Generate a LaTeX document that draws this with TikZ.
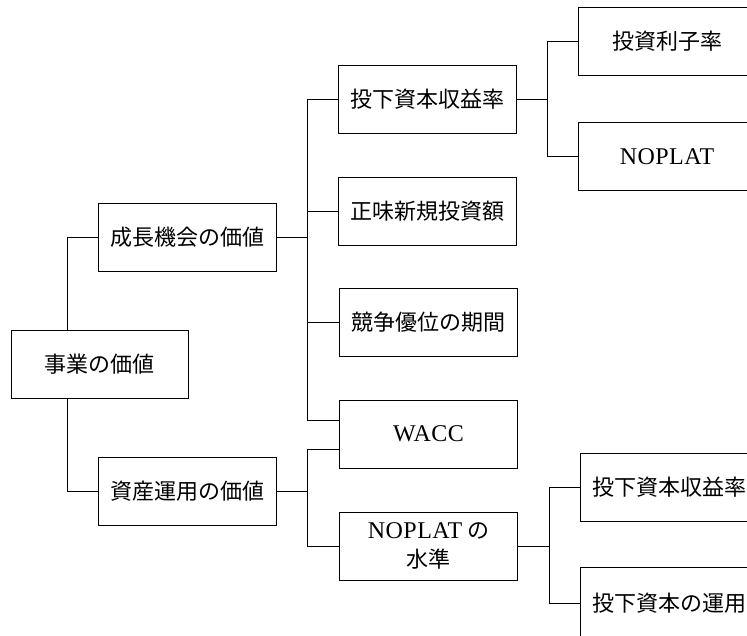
\documentclass[tikz,border=0pt]{standalone}
\usepackage{fontspec}
\setmainfont{Liberation Serif}
\newfontfamily\cjk{Noto Sans CJK JP}
\newfontfamily\lat[LetterSpace=2]{Liberation Serif}
\usetikzlibrary{calc}
\tikzset{
  box/.style={draw, line width=0.9pt, minimum width=178pt, minimum height=68pt, inner sep=0pt, align=center,
    font=\cjk\fontsize{22}{29}\selectfont},
  conn/.style={line width=0.9pt},
}
\begin{document}
\begin{tikzpicture}[x=1pt,y=-1pt]
\useasboundingbox (0,0) rectangle (747,636);
\clip (0,0) rectangle (747,636);
\fill[white] (0,0) rectangle (747,636);
% nodes
\node[box, minimum width=177pt] (root) at (99.5,364) {事業の価値};
\node[box] (growth) at (187,237) {成長機会の価値};
\node[box] (asset) at (187.5,491) {資産運用の価値};
\node[box] (roic1) at (427,99) {投下資本収益率};
\node[box] (netinv) at (427.5,211) {正味新規投資額};
\node[box] (comp) at (428,322.5) {競争優位の期間};
\node[box] (wacc) at (428.5,434) {{\lat\fontsize{24}{29}\selectfont WACC}};
\node[box] (noplat) at (428.5,546) {{\lat\fontsize{24}{29}\selectfont NOPLAT} の\\水準};
\node[box] (ir) at (667,41) {投資利子率};
\node[box] (np) at (667,156.5) {{\lat\fontsize{24}{29}\selectfont NOPLAT}};
\node[box] (roic2) at (669.5,487.5) {投下資本収益率};
\node[box, minimum height=72pt] (ops) at (669.5,603) {投下資本の運用};
% bus coordinates
\coordinate (b1) at (67,0);
\coordinate (b2) at (307.5,0);
\coordinate (b3) at (547,0);
\coordinate (b4) at (549,0);
\coordinate (wu) at ($(wacc.west)+(0,-14)$);
\coordinate (wl) at ($(wacc.west)+(0,15)$);
% connectors
\draw[conn] (root.north -| b1) |- (growth.west);
\draw[conn] (root.south -| b1) |- (asset.west);
\draw[conn] (growth.east) -- (growth.east -| b2);
\draw[conn] (roic1.west) -- (roic1.west -| b2) |- (wu);
\draw[conn] (netinv.west) -- (netinv.west -| b2);
\draw[conn] (comp.west) -- (comp.west -| b2);
\draw[conn] (asset.east) -- (asset.east -| b2);
\draw[conn] (wl) -- (wl -| b2) |- (noplat.west);
\draw[conn] (roic1.east) -- (roic1.east -| b3);
\draw[conn] (ir.west) -- (ir.west -| b3) |- (np.west);
\draw[conn] (noplat.east) -- (noplat.east -| b4);
\draw[conn] (roic2.west) -- (roic2.west -| b4) |- (ops.west);
\end{tikzpicture}
\end{document}
